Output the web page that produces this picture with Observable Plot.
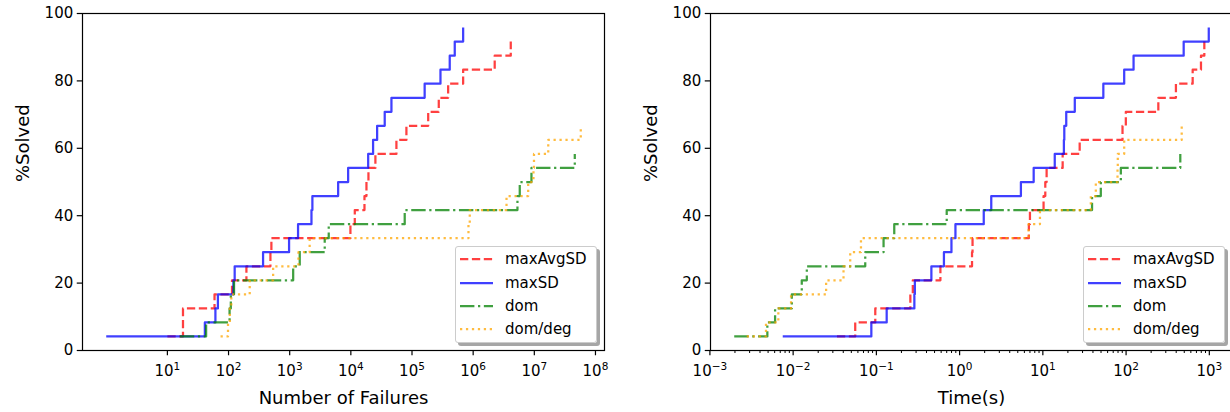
<!DOCTYPE html>
<html><head><meta charset="utf-8">
<script src="https://cdn.jsdelivr.net/npm/d3@7"></script>
<script src="https://cdn.jsdelivr.net/npm/@observablehq/plot@0.6"></script>
<style>
html,body{margin:0;padding:0;background:#fff;overflow:hidden}
#wrap{position:relative;width:1230px;height:412px;overflow:hidden;font-family:"DejaVu Sans",sans-serif;color:#000}
.panel{position:absolute;top:0}
.legend{position:absolute;border:1px solid #cccccc;border-radius:3px;background:rgba(255,255,255,0.85);box-shadow:3px 3px 0 rgba(0,0,0,0.35);box-sizing:border-box}
.row{position:absolute;left:0;height:20px;display:flex;align-items:center;transform:translateY(-50%)}
.row svg{margin-left:3.5px}
.row span{position:absolute;left:49px;font-size:15px;white-space:nowrap;line-height:20px}
</style></head><body><div id="wrap"></div><script>
// ---- data ----
const seriesNames = ["maxAvgSD", "maxSD", "dom", "dom/deg"];
const seriesColors = ["#ff0000", "#0000ff", "#008000", "#ffa500"];
const seriesDashes = ["8.3,3.6", null, "14.4,3.6,2.25,3.6", "2.25,3.7"];

// % solved after each step (out of 24 instances)
const solvedPct = [4.17, 8.33, 12.5, 16.67, 20.83, 25.0, 29.17, 33.33, 37.5, 41.67, 45.83, 50.0,
  54.17, 58.33, 62.5, 66.67, 70.83, 75.0, 79.17, 83.33, 87.5, 91.67, 95.83];

// Left panel: number of failures at which each instance got solved
const failMaxAvgSD = [10, 18, 18, 59, 114, 196, 484, 502, 9840, 11600, 16700, 18000, 19400, 25200,
  55600, 81000, 184000, 274000, 390000, 686000, 2250000, 4120000];
const failMaxSD = [1, 41, 61, 67, 120, 126, 367, 977, 1370, 2270, 2350, 6200, 9030, 19200, 23100,
  26900, 35800, 46100, 161000, 292000, 414000, 500000, 686000];
const failDom = [16, 43, 104, 109, 123, 1140, 1460, 3740, 4350, 76000, 5300000, 5780000, 8980000, 45900000];
const failDomDeg = [74, 98, 105, 111, 222, 536, 1390, 2120, 838000, 880000, 3510000, 7940000, 9690000,
  9880000, 16900000, 57500000];

// Right panel: time (s) at which each instance got solved
const timeMaxAvgSD = [0.0336, 0.0557, 0.097, 0.256, 0.274, 0.588, 1.41, 1.43, 6.79, 7.0, 10.2, 10.7, 11.1,
  17.3, 27.7, 90.6, 99.3, 244, 397, 631, 794, 871];
const timeMaxSD = [0.0075, 0.087, 0.133, 0.286, 0.29, 0.458, 0.648, 0.798, 0.891, 1.95, 2.40, 5.45, 7.76,
  13.9, 17.9, 18.1, 19.1, 24.2, 53.3, 94.9, 123, 492, 985];
const timeDom = [0.00196, 0.0049, 0.00607, 0.00964, 0.0127, 0.0146, 0.0735, 0.122, 0.164, 0.70, 39.0,
  49.7, 86.5, 448];
const timeDomDeg = [0.00277, 0.00472, 0.00664, 0.00944, 0.0249, 0.0403, 0.0485, 0.0653, 6.74, 9.23, 37.7,
  43.3, 78.9, 79.5, 94.9, 466];

const yTicks = [0, 20, 40, 60, 80, 100];
const leftXTicks = [1e1, 1e2, 1e3, 1e4, 1e5, 1e6, 1e7, 1e8];
const rightXTicks = [1e-3, 1e-2, 1e-1, 1e0, 1e1, 1e2, 1e3];
const rightMinorMult = [2, 3, 4, 5, 6, 7, 8, 9];
const leftXLabel = "Number of Failures";
const rightXLabel = "Time(s)";
const yLabel = "%Solved";

// ---- drawing ----
const powFmt = d => "10^" + String(Math.round(Math.log10(d))).replace("-", "\u2212");

function supify(svg) {
  svg.querySelectorAll('g[aria-label="x-axis tick label"] text').forEach(t => {
    const m = /^10\^(.+)$/.exec(t.textContent);
    if (!m) return;
    t.textContent = "10";
    const ts = document.createElementNS("http://www.w3.org/2000/svg", "tspan");
    ts.setAttribute("font-size", "10.5");
    ts.setAttribute("dy", "-0.6em");
    ts.textContent = m[1];
    t.appendChild(ts);
  });
}

function panel(xArrays, majorTicks, withMinor, xLabel) {
  const allX = xArrays.flat();
  const lo = Math.log10(d3.min(allX)), hi = Math.log10(d3.max(allX)), pad = 0.05 * (hi - lo);
  const domain = [Math.pow(10, lo - pad), Math.pow(10, hi + pad)];
  const marks = [];
  if (withMinor) {
    const minor = [];
    for (const t of majorTicks) for (const m of rightMinorMult) {
      const v = t * m; if (v >= domain[0] && v <= domain[1]) minor.push(v);
    }
    marks.push(Plot.axisX({ticks: minor, tickSize: 3, tickFormat: () => "", label: null, strokeWidth: 1}));
  }
  marks.push(Plot.axisX({ticks: majorTicks, tickSize: 5.25, tickPadding: 10, tickFormat: powFmt, label: null, strokeWidth: 1.2, fontSize: 15}));
  marks.push(Plot.axisY({ticks: yTicks, tickSize: 5.25, tickPadding: 4, label: null, strokeWidth: 1.2, fontSize: 15}));
  xArrays.forEach((xs, s) => {
    const pts = xs.map((x, i) => ({x, y: solvedPct[i]}));
    marks.push(Plot.line(pts, {x: "x", y: "y", curve: "step-after", stroke: seriesColors[s],
      strokeOpacity: 0.75, strokeWidth: 2.25, strokeDasharray: seriesDashes[s] || undefined,
      strokeLinecap: "butt", strokeLinejoin: "round"}));
  });
  marks.push(Plot.frame({stroke: "#000", strokeWidth: 1.2}));
  marks.push(Plot.text([xLabel], {frameAnchor: "bottom", dy: 48, fontSize: 18, text: d => d, lineAnchor: "middle"}));
  marks.push(Plot.text([yLabel], {frameAnchor: "left", dx: -59, rotate: -90, fontSize: 18, text: d => d, lineAnchor: "middle"}));
  const svg = Plot.plot({
    width: 620, height: 412, marginLeft: 82, marginRight: 16, marginTop: 13, marginBottom: 62,
    x: {type: "log", domain},
    y: {domain: [0, 100]},
    style: {fontSize: "15px", fontFamily: "DejaVu Sans, sans-serif", color: "#000", background: "transparent", overflow: "visible"},
    marks
  });
  supify(svg);
  return svg;
}

function legend(left, top) {
  const div = document.createElement("div");
  div.className = "legend";
  Object.assign(div.style, {left: left + "px", top: top + "px", width: "142px", height: "97px"});
  seriesNames.forEach((name, i) => {
    const row = document.createElement("div");
    row.className = "row";
    row.style.top = (12.3 + i * 23.35) + "px";
    row.innerHTML = `<svg width="33" height="8"><line x1="0" x2="33" y1="4" y2="4" stroke="${seriesColors[i]}" stroke-opacity="0.75" stroke-width="2.25" ${seriesDashes[i] ? `stroke-dasharray="${seriesDashes[i]}"` : ""}/></svg><span>${name}</span>`;
    div.appendChild(row);
  });
  return div;
}

const wrap = document.getElementById("wrap");
const p1 = panel([failMaxAvgSD, failMaxSD, failDom, failDomDeg], leftXTicks, false, leftXLabel);
p1.classList.add("panel"); p1.style.left = "0px";
const p2 = panel([timeMaxAvgSD, timeMaxSD, timeDom, timeDomDeg], rightXTicks, true, rightXLabel);
p2.classList.add("panel"); p2.style.left = "628px";
wrap.appendChild(p1); wrap.appendChild(p2);
wrap.appendChild(legend(455, 246));
wrap.appendChild(legend(1083, 246));
</script></body></html>
